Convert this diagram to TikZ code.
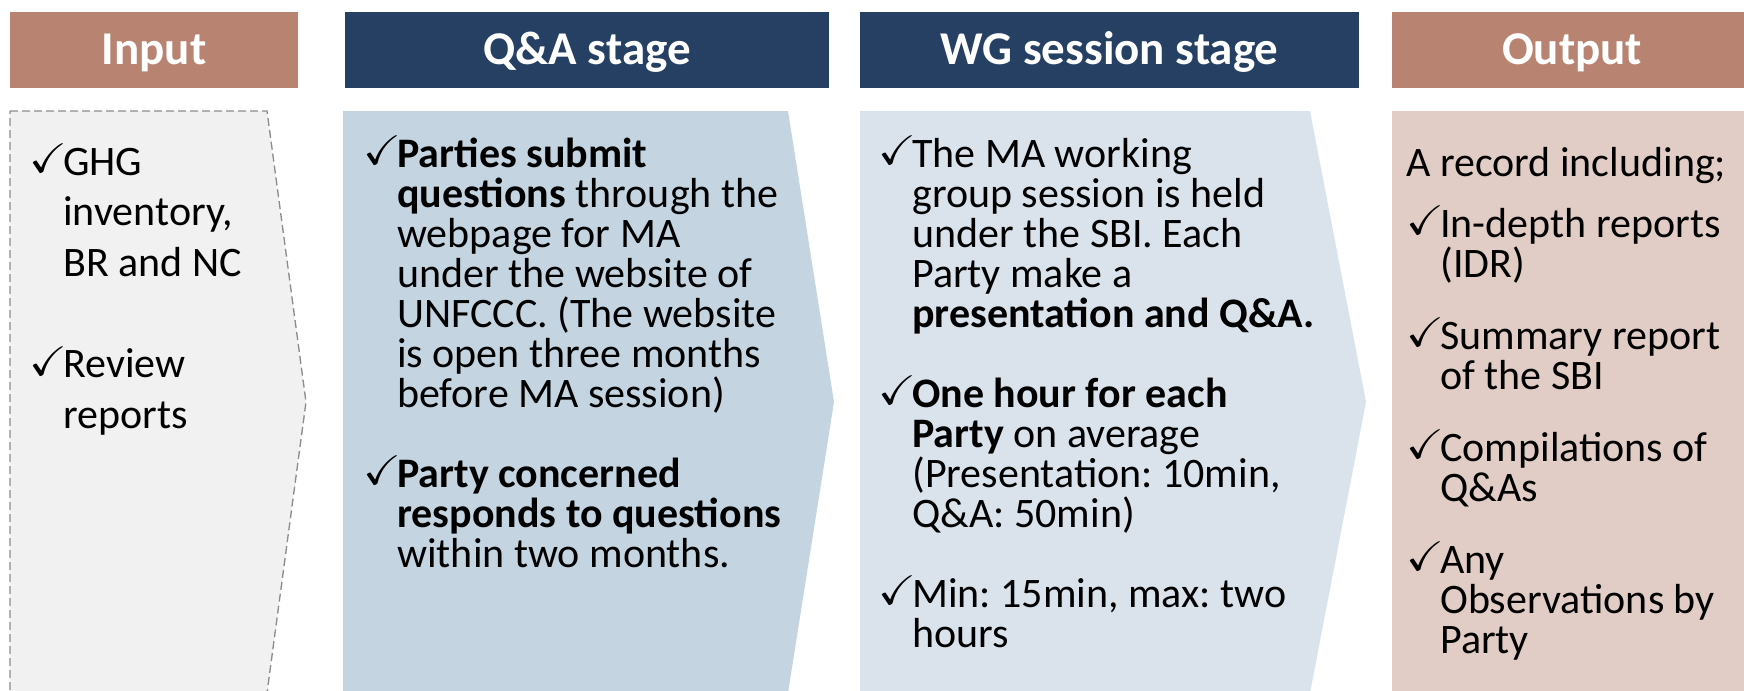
\documentclass[tikz,border=0pt]{standalone}
\usepackage{amssymb}
\usepackage{fontspec}
\usepackage{graphicx}
\setmainfont{Carlito}
\usetikzlibrary{calc}
\definecolor{hdrbrown}{RGB}{184,132,113}
\definecolor{hdrnavy}{RGB}{37,64,99}
\definecolor{inbody}{RGB}{241,241,241}
\definecolor{inedge}{RGB}{140,140,140}
\definecolor{qabody}{RGB}{196,212,225}
\definecolor{wgbody}{RGB}{218,227,236}
\definecolor{outbody}{RGB}{225,205,197}
\newlength{\ckw}\setlength{\ckw}{25.5pt}
\newlength{\ckl}\setlength{\ckl}{0pt}
\newcommand{\ck}{\makebox[\ckw][l]{\hspace*{\ckl}\smash{\raisebox{2pt}{\fontsize{10pt}{10pt}\selectfont\scalebox{3.4}[3.1]{$\checkmark$}}}}}
\newcommand{\ind}{\hspace*{\ckw}}
\newcommand{\fst}{\rule{0pt}{26pt}}

\begin{document}
\frenchspacing
\begin{tikzpicture}[x=0.75pt,y=-0.75pt,
  hdrbox/.style={inner sep=0pt,minimum height=57pt,text height=22.3pt,text depth=0pt,
    text=white,font=\fontsize{35.25pt}{40pt}\selectfont\bfseries},
  bodytext/.style={anchor=north west,inner sep=0pt,align=left,
    font=\fontsize{31.5pt}{30pt}\selectfont}]
\useasboundingbox (0,0) rectangle (1744,690);
\clip (0,0) rectangle (1744,690);
% headers
\node[hdrbox,fill=hdrbrown,minimum width=216pt] (inhead) at (154,49.5) {Input};
\node[hdrbox,fill=hdrnavy,minimum width=363pt] (qahead) at (587,49.5) {Q\&A stage};
\node[hdrbox,fill=hdrnavy,minimum width=374.25pt] (wghead) at (1109.5,49.5) {WG session stage};
\node[hdrbox,fill=hdrbrown,minimum width=270pt] (outhead) at (1572,49.5) {Output};
% bodies
\filldraw[fill=inbody,draw=inedge,line width=1pt,dash pattern=on 6pt off 3pt]
  (10,111) -- (267,111) -- (306,402) -- (267,693) -- (10,693) -- cycle;
\fill[qabody] (343,111) -- (788,111) -- (834,402) -- (788,693) -- (343,693) -- cycle;
\fill[wgbody] (860,111) -- (1310,111) -- (1366,402) -- (1310,693) -- (860,693) -- cycle;
\fill[outbody] (1392,111) rectangle (1760,693);
% texts
\node[bodytext,font=\fontsize{31.5pt}{38pt}\selectfont] (intext) at (29,140.3)
  {\fst\ck GHG\\
   \ind inventory,\\
   \ind BR and NC\\[38pt]
   \ck Review\\
   \ind reports};
\node[bodytext] (qatext) at (363,132.3)
  {\fst\ck\textbf{Parties submit}\\
   \ind\textbf{questions} through the\\
   \ind webpage for MA\\
   \ind under the website of\\
   \ind UNFCCC. (The website\\
   \ind is open three months\\
   \ind before MA session)\\[30pt]
   \ck\textbf{Party concerned}\\
   \ind\textbf{responds to questions}\\
   \ind within two months.};
\node[bodytext] (wgtext) at (878,132.3)
  {\fst\ck The MA working\\
   \ind group session is held\\
   \ind under the SBI. Each\\
   \ind Party make a\\
   \ind\textbf{presentation and Q\&A.}\\[30pt]
   \ck\textbf{One hour for each}\\
   \ind\textbf{Party} on average\\
   \ind(Presentation: 10min,\\
   \ind Q\&A: 50min)\\[30pt]
   \ck Min: 15min, max: two\\
   \ind hours};
\node[bodytext] (outtext) at (1406,141.3)
  {\setlength{\ckl}{3pt}\setlength{\ckw}{28.5pt}%
   \fst A record including;\\[16pt]
   \ck In-depth reports\\
   \ind(IDR)\\[24pt]
   \ck Summary report\\
   \ind of the SBI\\[24pt]
   \ck Compilations of\\
   \ind Q\&As\\[24pt]
   \ck Any\\
   \ind Observations by\\
   \ind Party};
\end{tikzpicture}
\end{document}
